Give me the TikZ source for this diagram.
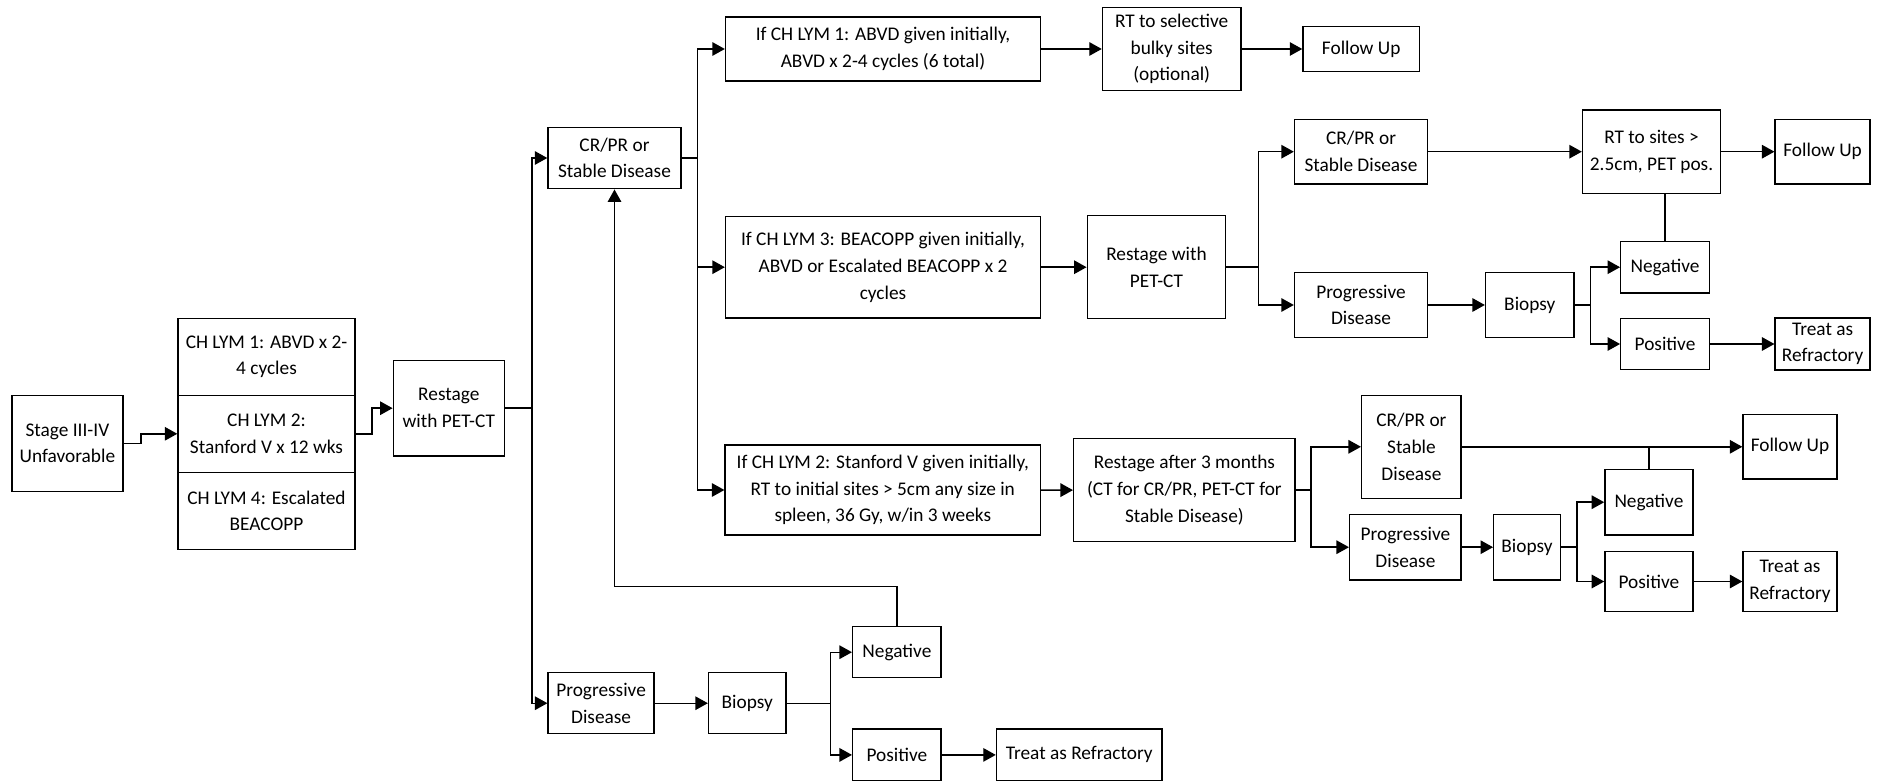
\documentclass[tikz,border=0pt]{standalone}
\usepackage{fontspec}
\setmainfont{Carlito}
\usetikzlibrary{arrows.meta}

\tikzset{
  blk/.style={draw, line width=0.8pt, align=center, inner sep=0pt},
  flow/.style={line width=0.8pt, -{Triangle[length=2.5mm, width=2.7mm]}},
  link/.style={line width=0.8pt}
}

\begin{document}
\begin{tikzpicture}[x=0.02cm, y=-0.02cm, font=\fontsize{11}{15.2}\selectfont]
				\useasboundingbox (0, 0) rectangle (1885, 783);
				
				% first line of treatment
				\node[blk, minimum width=2.22cm, minimum height=1.92cm] (stage) at (67.4, 443.3) {Stage III-IV\\Unfavorable};
				\node[blk, minimum width=3.54cm, minimum height=1.54cm] (lymA) at (266.5, 356.8) {CH LYM 1: ABVD x 2-\\4 cycles};
				\node[blk, minimum width=3.54cm, minimum height=1.54cm] (lymB) at (266.5, 433.8) {CH LYM 2:\\Stanford V x 12 wks};
				\node[blk, minimum width=3.54cm, minimum height=1.54cm] (lymD) at (266.5, 510.8) {CH LYM 4: Escalated\\BEACOPP};
				\node[blk, minimum width=2.22cm, minimum height=1.92cm] (restA) at (448.8, 408.2) {Restage\\with PET-CT};
				
				\draw[flow] (stage.east) -- ++(17.3, 0) |- (lymB.west);
				\draw[flow] (lymB.east) -- ++(16.4, 0) |- (restA.west);
				
				\coordinate (trunkA) at (532, 408.2);
				\node[blk, minimum width=2.66cm, minimum height=1.23cm] (crA) at (614.5, 158) {CR/PR or\\Stable Disease};
				\node[blk, minimum width=2.12cm, minimum height=1.22cm] (progA) at (601.1, 703.2) {Progressive\\Disease};
				\draw[link] (restA.east) -- (trunkA);
				\draw[flow] (trunkA) |- (crA.west);
				\draw[flow] (trunkA) |- (progA.west);
				
				% progressive disease
				\node[blk, minimum width=1.55cm, minimum height=1.22cm] (bioA) at (747.3, 703.2) {Biopsy};
				\node[blk, minimum width=1.77cm, minimum height=1.02cm] (negA) at (896.9, 652.2) {Negative};
				\node[blk, minimum width=1.77cm, minimum height=1.03cm] (posA) at (896.9, 754.9) {Positive};
				\node[blk, minimum width=3.31cm, minimum height=1.03cm] (treatA) at (1079.2, 754.9) {Treat as Refractory};
				\draw[flow] (progA) -- (bioA);
				\coordinate (forkA) at (830.4, 703.2);
				\draw[link] (bioA.east) -- (forkA);
				\draw[flow] (forkA) |- (negA.west);
				\draw[flow] (forkA) |- (posA.west);
				\draw[flow] (posA) -- (treatA);
				\draw[flow] (negA.north) -- ++(0, -39.4) -| (crA.south);
				
				% second line, by regimen
				\node[blk, minimum width=6.30cm, minimum height=1.28cm] (ifA) at (883, 49) {If CH LYM 1: ABVD given initially,\\ABVD x 2-4 cycles (6 total)};
				\node[blk, minimum width=6.30cm, minimum height=2.04cm] (ifC) at (883, 267.2) {If CH LYM 3: BEACOPP given initially,\\ABVD or Escalated BEACOPP x 2\\cycles};
				\node[blk, minimum width=6.31cm, minimum height=1.80cm] (ifB) at (882.8, 490) {If CH LYM 2: Stanford V given initially,\\RT to initial sites > 5cm any size in\\spleen, 36 Gy, w/in 3 weeks};
				\coordinate (trunkB) at (697.3, 158);
				\draw[link] (crA.east) -- (trunkB);
				\draw[flow] (trunkB) |- (ifA.west);
				\draw[flow] (trunkB) |- (ifC.west);
				\draw[flow] (trunkB) |- (ifB.west);
				
				% CH LYM 1 branch
				\node[blk, minimum width=2.77cm, minimum height=1.67cm] (rtSel) at (1171.7, 49) {RT to selective\\bulky sites\\(optional)};
				\node[blk, minimum width=2.33cm, minimum height=0.90cm] (fuA) at (1361.2, 49) {Follow Up};
				\draw[flow] (ifA) -- (rtSel);
				\draw[flow] (rtSel) -- (fuA);
				
				% CH LYM 3 branch
				\node[blk, minimum width=2.77cm, minimum height=2.06cm] (restB) at (1156.5, 267.2) {Restage with\\PET-CT};
				\node[blk, minimum width=2.66cm, minimum height=1.29cm] (crB) at (1361, 151.7) {CR/PR or\\Stable Disease};
				\node[blk, minimum width=2.66cm, minimum height=1.31cm] (progB) at (1361, 305) {Progressive\\Disease};
				\node[blk, minimum width=1.77cm, minimum height=1.31cm] (bioB) at (1529.8, 305) {Biopsy};
				\node[blk, minimum width=2.76cm, minimum height=1.67cm] (rtBig) at (1651.5, 151.7) {RT to sites >\\2.5cm, PET pos.};
				\node[blk, minimum width=1.90cm, minimum height=1.29cm] (fuB) at (1822.6, 151.7) {Follow Up};
				\node[blk, minimum width=1.77cm, minimum height=1.03cm] (negB) at (1665, 267.2) {Negative};
				\node[blk, minimum width=1.77cm, minimum height=1.03cm] (posB) at (1665, 344) {Positive};
				\node[blk, minimum width=1.90cm, minimum height=1.04cm] (treatB) at (1822.6, 344) {Treat as\\Refractory};
				\draw[flow] (ifC) -- (restB);
				\coordinate (trunkC) at (1258.7, 267.2);
				\draw[link] (restB.east) -- (trunkC);
				\draw[flow] (trunkC) |- (crB.west);
				\draw[flow] (trunkC) |- (progB.west);
				\draw[flow] (crB) -- (rtBig);
				\draw[flow] (rtBig) -- (fuB);
				\draw[flow] (progB) -- (bioB);
				\coordinate (forkB) at (1590.5, 305);
				\draw[link] (bioB.east) -- (forkB);
				\draw[flow] (forkB) |- (negB.west);
				\draw[flow] (forkB) |- (posB.west);
				\draw[flow] (posB) -- (treatB);
				\draw[link] (negB.north) -- (negB.north |- rtBig.south);
				
				% CH LYM 2 branch
				\node[blk, minimum width=4.43cm, minimum height=2.06cm] (restC) at (1184.4, 490.2) {Restage after 3 months\\(CT for CR/PR, PET-CT for\\Stable Disease)};
				\node[blk, minimum width=1.99cm, minimum height=2.06cm] (crC) at (1411.4, 446.8) {CR/PR or\\Stable\\Disease};
				\node[blk, minimum width=2.23cm, minimum height=1.31cm] (progC) at (1405.4, 547.2) {Progressive\\Disease};
				\node[blk, minimum width=1.33cm, minimum height=1.31cm] (bioC) at (1527, 547.2) {Biopsy};
				\node[blk, minimum width=1.76cm, minimum height=1.31cm] (negC) at (1648.9, 502.2) {Negative};
				\node[blk, minimum width=1.76cm, minimum height=1.21cm] (posC) at (1648.9, 581.5) {Positive};
				\node[blk, minimum width=1.88cm, minimum height=1.19cm] (treatC) at (1790, 581.5) {Treat as\\Refractory};
				\node[blk, minimum width=1.88cm, minimum height=1.29cm] (fuC) at (1790, 446.8) {Follow Up};
				\draw[flow] (ifB) -- (restC);
				\coordinate (trunkD) at (1311, 490.2);
				\draw[link] (restC.east) -- (trunkD);
				\draw[flow] (trunkD) |- (crC.west);
				\draw[flow] (trunkD) |- (progC.west);
				\draw[flow] (crC) -- (fuC);
				\draw[link] (negC.north) -- (negC.north |- crC.east);
				\draw[flow] (progC) -- (bioC);
				\coordinate (forkC) at (1576.9, 547.2);
				\draw[link] (bioC.east) -- (forkC);
				\draw[flow] (forkC) |- (negC.west);
				\draw[flow] (forkC) |- (posC.west);
				\draw[flow] (posC) -- (treatC);
			\end{tikzpicture}
\end{document}
